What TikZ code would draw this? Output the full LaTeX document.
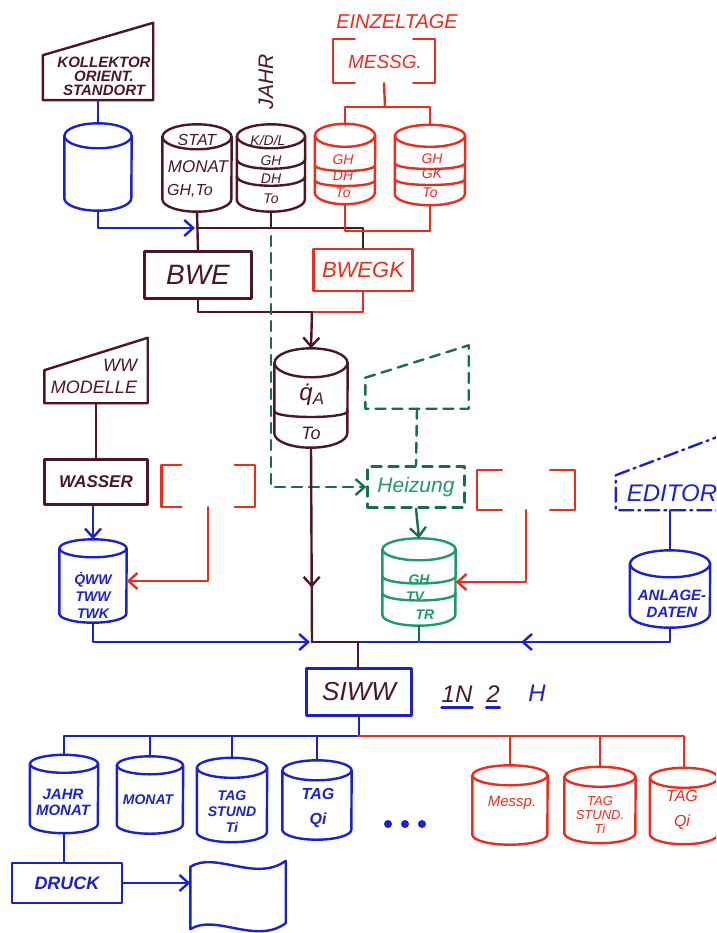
\documentclass[tikz,border=0pt]{standalone}
\usepackage{fontspec}
\setmainfont{Liberation Sans}
\usetikzlibrary{shapes.geometric}
\usetikzlibrary{calc}
\usetikzlibrary{positioning}
\usetikzlibrary{arrows.meta}
\usetikzlibrary{decorations.markings}

\definecolor{sbrown}{HTML}{4C1624}
\definecolor{sblue}{HTML}{1B22CC}
\definecolor{sred}{HTML}{EE2C1E}
\definecolor{sgreen}{HTML}{14704A}
\definecolor{steal}{HTML}{1E9A6C}

\tikzset{
  pen/.style={line width=2.4pt, line cap=round, line join=round},
  barb/.style={-{Straight Barb[length=9pt,width=16pt]}},
  midbarb/.style={postaction={decorate},
    decoration={markings, mark=at position #1 with {\arrow{Straight Barb[length=9pt,width=16pt]}}}},
  box/.style={rectangle, draw, pen, inner sep=0pt},
  frame/.style={rectangle, inner sep=0pt},
  hand/.style 2 args={font=\itshape\fontsize{#1}{#2}\selectfont, inner sep=0pt, align=center},
  handb/.style 2 args={font=\bfseries\itshape\fontsize{#1}{#2}\selectfont, inner sep=0pt, align=center},
  gdash/.style={dash pattern=on 10pt off 7pt},
  dashdot/.style={dash pattern=on 14pt off 5pt on 2pt off 5pt},
}

% #1 style, #2 node, #3 half width, #4 radius of the lid
\newcommand{\cyl}[4]{%
  \draw[#1] ($(#2.north)+(0,#4)$) ellipse [x radius=#3, y radius=#4];
  \draw[#1] ($(#2.north west)+(0,#4)$) -- ($(#2.south west)+(0,-#4)$)
    arc[start angle=180, end angle=0, x radius=#3, y radius=#4] -- ($(#2.north east)+(0,#4)$);}
\newcommand{\band}[4]{%
  \draw[#1] ($(#2.west)+(0,#3)$) .. controls +(0,#4) and +(0,#4) .. ($(#2.east)+(0,#3)$);}
\newcommand{\brackbox}[3]{%
  \draw[#1] ($(#2.north west)+(#3,0)$) -| (#2.south west) -- ++(#3,0);
  \draw[#1] ($(#2.north east)+(-#3,0)$) -| (#2.south east) -- ++(-#3,0);}

\begin{document}
\begin{tikzpicture}[x=1pt, y=-1pt]
\path[use as bounding box] (0,0) rectangle (716,933);
\clip (0,0) rectangle (716,933);

% collector input and its data base
\node[frame, minimum width=110pt, minimum height=77pt] (KolIn) at (98,61.5) {};
\draw[pen, sbrown] ($(KolIn.south west)+(0,-45)$) -- (KolIn.north east) -- (KolIn.south east) -- (KolIn.south west) -- cycle;
\node[handb={15}{14}, text=sbrown] (KolTxt) at (104,76) {KOLLEKTOR\\ORIENT.\\STANDORT};
\node[frame, minimum width=67pt, minimum height=87pt] (DbKol) at (98,167) {};
\cyl{pen, sblue}{DbKol}{33.5}{12.5}
\draw[pen, sblue] (KolIn.south) -- (DbKol.north);

% weather data
\node[frame, minimum width=69pt, minimum height=87pt] (DbStat) at (197,168) {};
\cyl{pen, sbrown}{DbStat}{34.5}{12.5}
\node[hand={16}{16}, text=sbrown] (StatA) at (197,140) {STAT};
\node[hand={17}{17}, text=sbrown] (StatB) at (198,167) {MONAT};
\node[hand={16}{16}, text=sbrown] (StatC) at (190,191) {GH,To};

\node[frame, minimum width=68pt, minimum height=87pt] (DbJahr) at (271,168) {};
\cyl{pen, sbrown}{DbJahr}{34}{12}
\band{pen, sbrown}{DbJahr}{-9}{13}
\band{pen, sbrown}{DbJahr}{8}{13}
\node[hand={14}{14}, text=sbrown] (JahrA) at (268,140) {K/D/L};
\node[hand={14}{14}, text=sbrown] (JahrB) at (271,161) {GH};
\node[hand={14}{14}, text=sbrown] (JahrC) at (271,179) {DH};
\node[hand={14}{14}, text=sbrown] (JahrD) at (271,199) {To};
\node[hand={21}{21}, text=sbrown, rotate=90] (JahrLbl) at (266,82) {JAHR};

\node[hand={20}{20}, text=sred] (EzLbl) at (397,22) {EINZELTAGE};
\node[frame, minimum width=102pt, minimum height=44pt] (Mess) at (384,61) {};
\brackbox{pen, sred}{Mess}{22}
\node[hand={19}{19}, text=sred] (MessTxt) at (385,62) {MESSG.};

\node[frame, minimum width=60pt, minimum height=80pt] (DbEz1) at (345,164) {};
\cyl{pen, sred}{DbEz1}{30}{11.5}
\band{pen, sred}{DbEz1}{1}{8}
\band{pen, sred}{DbEz1}{16}{8}
\node[hand={14}{14}, text=sred] (Ez1A) at (343,160) {GH};
\node[hand={14}{14}, text=sred] (Ez1B) at (343,176) {DH};
\node[hand={14}{14}, text=sred] (Ez1C) at (343,193) {To};

\node[frame, minimum width=70pt, minimum height=80pt] (DbEz2) at (430,165) {};
\cyl{pen, sred}{DbEz2}{35}{11}
\band{pen, sred}{DbEz2}{-2}{8}
\band{pen, sred}{DbEz2}{14}{8}
\node[hand={14}{14}, text=sred] (Ez2A) at (432,159) {GH};
\node[hand={14}{14}, text=sred] (Ez2B) at (432,174) {GK};
\node[hand={14}{14}, text=sred] (Ez2C) at (430,193) {To};

\coordinate (JEz) at (385,107);
\draw[pen, sred] (Mess.south) -- (JEz);
\draw[pen, sred] (DbEz1.north) |- (JEz) -| (DbEz2.north);

% irradiation programs
\node[box, draw=sbrown, minimum width=107pt, minimum height=47pt, hand={28}{28}, text=sbrown] (Bwe) at (198,275) {BWE};
\node[box, draw=sred, minimum width=99pt, minimum height=42pt, hand={22}{22}, text=sred] (Bwegk) at (363,270) {BWEGK};

\coordinate (JTop) at (197,228);
\coordinate (JRed) at (385,231);
\draw[pen, sblue, barb, shorten >=2pt] (DbKol.south) |- (JTop);
\draw[pen, sbrown] (DbStat.south) -- (Bwe.north);
\draw[pen, sbrown] (DbJahr.south) -- (DbJahr.south |- JTop);
\draw[pen, sbrown] (JTop) -| (Bwegk.north);
\draw[pen, sred] (DbEz1.south) |- (JRed) -| (DbEz2.south);

\node[frame, minimum width=73pt, minimum height=99pt] (DbQa) at (311,398) {};
\cyl{pen, sbrown}{DbQa}{36.5}{14.5}
\band{pen, sbrown}{DbQa}{13}{8}
\node[hand={24}{24}, text=sbrown] (QaA) at (312,395) {\.{q}\textsubscript{A}};
\node[hand={18}{18}, text=sbrown] (QaB) at (311,433) {To};

\coordinate (JMid) at (312,312);
\draw[pen, sbrown] (Bwe.south) |- (JMid);
\draw[pen, sred] (Bwegk.south) |- (JMid);
\draw[pen, sbrown, barb] (JMid) -- (DbQa.north);

% heating
\node[frame, minimum width=103pt, minimum height=63pt] (HzIn) at (417,377) {};
\draw[pen, sgreen, gdash] ($(HzIn.south west)+(0,-31)$) -- (HzIn.north east) -- (HzIn.south east) -- (HzIn.south west) -- cycle;
\node[box, draw=sgreen, gdash, minimum width=97pt, minimum height=41pt, hand={21}{21}, text=steal] (Heiz) at (416,487) {Heizung};
\draw[pen, sgreen, gdash] (HzIn.south) -- (Heiz.north);
\draw[pen, sgreen, gdash, barb] ($(DbJahr.south |- JTop)+(0,8)$) |- (Heiz.west);

\node[frame, minimum width=73pt, minimum height=87pt] (DbHz) at (419,582) {};
\cyl{pen, steal}{DbHz}{36.5}{11}
\band{pen, steal}{DbHz}{-6}{10}
\band{pen, steal}{DbHz}{11}{10}
\node[handb={14}{14}, text=steal] (HzA) at (419,580) {GH};
\node[handb={14}{14}, text=steal] (HzB) at (415,597) {TV};
\node[handb={14}{14}, text=steal] (HzC) at (425,615) {TR};
\draw[pen, sgreen, barb] (Heiz.south) -- (DbHz.north);

\node[frame, minimum width=98pt, minimum height=40pt] (RbHz) at (526,490) {};
\brackbox{pen, sred}{RbHz}{25}
\draw[pen, sred, barb] (RbHz.south) |- (DbHz.east);

% plant data
\node[frame, minimum width=120pt, minimum height=80pt] (EdIn) at (676,470) {};
\draw[pen, sblue, dashdot] ($(EdIn.south west)+(0,-35)$) -- (EdIn.north east) -- (EdIn.south east) -- (EdIn.south west) -- cycle;
\node[hand={24}{24}, text=sblue] (EdTxt) at (672,493) {EDITOR};
\node[frame, minimum width=80pt, minimum height=77pt] (DbAnl) at (670,589) {};
\cyl{pen, sblue}{DbAnl}{40}{13.5}
\node[handb={15}{17}, text=sblue] (AnlTxt) at (672,604) {ANLAGE-\\DATEN};
\draw[pen, sblue] (EdIn.south -| DbAnl.north) -- (DbAnl.north);

% hot water
\node[frame, minimum width=103pt, minimum height=65pt] (WwIn) at (96,370.5) {};
\draw[pen, sbrown] ($(WwIn.south west)+(0,-33)$) -- (WwIn.north east) -- (WwIn.south east) -- (WwIn.south west) -- cycle;
\node[hand={18}{22}, text=sbrown, align=right] (WwTxt) at (94,376) {WW\\MODELLE};
\node[box, draw=sbrown, minimum width=103pt, minimum height=45pt, handb={17}{17}, text=sbrown] (Wasser) at (96,482) {WASSER};
\draw[pen, sbrown] (WwIn.south) -- (Wasser.north);

\node[frame, minimum width=93pt, minimum height=42pt] (RbWw) at (208,486) {};
\brackbox{pen, sred}{RbWw}{20}

\node[frame, minimum width=67pt, minimum height=83pt] (DbWw) at (93,581) {};
\cyl{pen, sblue}{DbWw}{33.5}{9}
\node[handb={14}{17}, text=sblue] (WwDbTxt) at (93,595) {\.{Q}WW\\TWW\\TWK};
\draw[pen, sblue, barb] (Wasser.south -| DbWw.north) -- (DbWw.north);
\draw[pen, sred, barb] (RbWw.south) |- (DbWw.east);

% collecting line into SIWW
\node[box, draw=sblue, minimum width=105pt, minimum height=47pt, hand={26}{26}, text=sbrown] (Siww) at (359,692) {SIWW};
\coordinate (JQ) at (312,642);
\coordinate (JS) at (358,642);
\draw[pen, sbrown, midbarb=0.72] (DbQa.south) -- (JQ);
\draw[pen, sbrown] (JQ) -- (JS);
\draw[pen, sblue, barb, shorten >=2pt] (DbWw.south) |- (JQ);
\draw[pen, sblue, midbarb=0.5] (DbAnl.south) |- (JS);
\draw[pen, sgreen] (DbHz.south) -- (DbHz.south |- JS);
\draw[pen, sbrown] (JS) -- (JS |- Siww.north);

\node[hand={24}{24}, text=sbrown] (Lbl1N) at (457,694) {1N};
\node[hand={24}{24}, text=sbrown] (Lbl2) at (493,694) {2};
\node[hand={24}{24}, text=sblue] (LblH) at (537,693) {H};
\draw[pen, sblue] ($(Lbl1N.south west)+(0,5)$) -- ($(Lbl1N.south east)+(0,5)$);
\draw[pen, sblue] ($(Lbl2.south west)+(0,5)$) -- ($(Lbl2.south east)+(0,5)$);

% result files
\node[frame, minimum width=68pt, minimum height=78pt] (DbJ1) at (64,794) {};
\cyl{pen, sblue}{DbJ1}{34}{9}
\node[handb={15}{16}, text=sblue] (J1Txt) at (63,802) {JAHR\\MONAT};
\node[frame, minimum width=66pt, minimum height=77pt] (DbJ2) at (150,795) {};
\cyl{pen, sblue}{DbJ2}{33}{9}
\node[handb={14}{15}, text=sblue] (J2Txt) at (148,800) {MONAT};
\node[frame, minimum width=70pt, minimum height=84pt] (DbJ3) at (232,800) {};
\cyl{pen, sblue}{DbJ3}{35}{10}
\node[handb={14}{16}, text=sblue] (J3Txt) at (232,812) {TAG\\STUND\\Ti};
\node[frame, minimum width=69pt, minimum height=79pt] (DbJ4) at (317,800) {};
\cyl{pen, sblue}{DbJ4}{34.5}{10}
\node[handb={16}{25}, text=sblue] (J4Txt) at (318,808) {TAG\\Qi};
\foreach \i/\x in {1/388,2/405,3/422}
  \node[circle, fill=sblue, inner sep=0pt, minimum size=8pt] (Dot\i) at (\x,824) {};

\node[frame, minimum width=75pt, minimum height=79pt] (DbR1) at (510,805) {};
\cyl{pen, sred}{DbR1}{37.5}{10}
\node[hand={15}{15}, text=sred] (R1Txt) at (512,803) {Messp.};
\node[frame, minimum width=71pt, minimum height=76pt] (DbR2) at (600,805) {};
\cyl{pen, sred}{DbR2}{35.5}{10}
\node[hand={13}{14}, text=sred] (R2Txt) at (600,815) {TAG\\STUND.\\Ti};
\node[frame, minimum width=68pt, minimum height=76pt] (DbR3) at (684,806) {};
\cyl{pen, sred}{DbR3}{34}{10}
\node[hand={16}{25}, text=sred] (R3Txt) at (682,810) {TAG\\Qi};

\coordinate (JLow) at (358,736);
\draw[pen, sblue] (Siww.south) -- (Siww.south |- JLow);
\draw[pen, sblue] (DbJ1.north) |- (JLow);
\draw[pen, sblue] (DbJ2.north) -- (DbJ2.north |- JLow);
\draw[pen, sblue] (DbJ3.north) -- (DbJ3.north |- JLow);
\draw[pen, sblue] (DbJ4.north) -- (DbJ4.north |- JLow);
\draw[pen, sred] (JLow) -| (DbR3.north);
\draw[pen, sred] (DbR1.north) -- (DbR1.north |- JLow);
\draw[pen, sred] (DbR2.north) -- (DbR2.north |- JLow);

% print out
\node[box, draw=sblue, minimum width=110pt, minimum height=40pt, handb={18}{18}, text=sblue] (Druck) at (67,883) {DRUCK};
\node[frame, minimum width=95pt, minimum height=66pt] (Doc) at (238,896) {};
\draw[pen, sblue] ($(Doc.north west)+(0,4)$) .. controls +(25,-16) and +(-30,22) .. ($(Doc.north east)+(0,-2)$)
  -- ($(Doc.south east)+(0,-6)$) .. controls +(-30,22) and +(25,-16) .. (Doc.south west) -- cycle;
\draw[line width=1.4pt, sblue] (DbJ1.south) -- (DbJ1.south |- Druck.north);
\draw[pen, sblue, barb] (Druck.east) -- (Druck.east -| Doc.west);
\end{tikzpicture}
\end{document}
